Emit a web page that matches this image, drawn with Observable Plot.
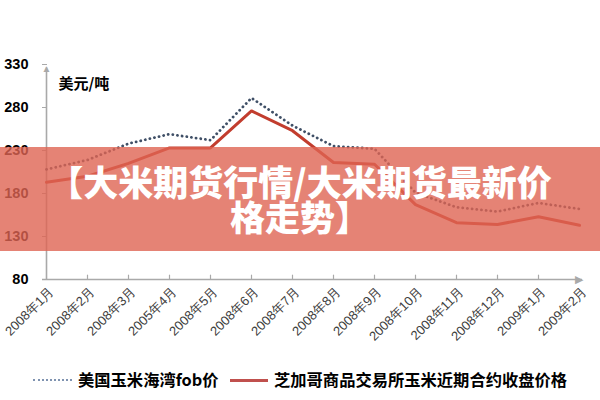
<!DOCTYPE html>
<html><head><meta charset="utf-8">
<script src="https://cdn.jsdelivr.net/npm/d3@7"></script>
<script src="https://cdn.jsdelivr.net/npm/@observablehq/plot@0.6"></script>
<style>
body{margin:0;background:#fff;}
#wrap{position:relative;width:600px;height:400px;overflow:hidden;background:#fff;font-family:"Noto Sans CJK SC",sans-serif;}
#chart{position:absolute;left:0;top:0;}
#band{position:absolute;left:0;top:147px;width:600px;height:104px;background:rgba(222,100,82,0.8);color:#fff;text-align:center;font-weight:900;font-size:35px;line-height:35px;padding-top:16px;box-sizing:border-box;font-family:"Noto Sans CJK SC",sans-serif;}
#band div{height:35px;}
#legend{position:absolute;left:0;top:355px;width:600px;height:45px;}
.sw{position:absolute;top:24px;height:0;}
.lt{position:absolute;top:12px;font-size:16.3px;line-height:24px;font-weight:bold;color:#000;white-space:nowrap;font-family:"Noto Sans CJK SC",sans-serif;}
</style>
</head><body>
<div id="wrap">
  <div id="chart"></div>
  <div id="band"></div>
  <div id="legend"></div>
</div>
<script>
const months = ["2008年1月","2008年2月","2008年3月","2005年4月","2008年5月","2008年6月","2008年7月","2008年8月","2008年9月","2008年10月","2008年11月","2008年12月","2009年1月","2009年2月"];
const fobPrice = [208, 219, 238, 249, 242, 291, 259, 235, 232, 181, 164, 159, 169, 162];
const cbotPrice = [193, 200, 215, 233, 233, 276, 253, 216, 214, 167, 146, 144, 153, 143];
const yTicks = [80, 130, 180, 230, 280, 330];
const seriesNames = ["美国玉米海湾fob价", "芝加哥商品交易所玉米近期合约收盘价格"];
const yUnit = "美元/吨";
const titleLines = ["【大米期货行情/大米期货最新价", "格走势】"];

const fobRows = months.map((m, i) => ({month: m, value: fobPrice[i]}));
const cbotRows = months.map((m, i) => ({month: m, value: cbotPrice[i]}));

const axisGray = "#a9a9a9";
const fobColor = "#3f4f66";
const cbotColor = "#c23d2e";

const chart = Plot.plot({
  width: 600,
  height: 355,
  marginLeft: 42,
  marginRight: 18,
  marginTop: 64,
  marginBottom: 76,
  style: {background: "transparent", overflow: "visible"},
  x: {type: "point", domain: months, padding: 0, axis: null},
  y: {domain: [80, 330], axis: null},
  marks: [
    Plot.ruleY([80], {stroke: axisGray, strokeWidth: 1.6}),
    Plot.ruleX([months[0]], {y1: 80, y2: 326, stroke: axisGray, strokeWidth: 1.6}),
    Plot.ruleX(months.slice(1, -1), {x: d => d, y1: 80, y2: 85, stroke: axisGray, strokeWidth: 1.2}),
    Plot.axisY(yTicks, {tickSize: 5, dx: 5, tickFormat: () => "", stroke: axisGray, label: null}),
    Plot.axisY(yTicks, {tickSize: 0, tickPadding: 14, label: null, fontSize: 14.5, fontWeight: "bold", fontFamily: "'Liberation Sans',sans-serif", fill: "#000"}),
    Plot.text([months[months.length - 1]], {x: d => d, y: 80, text: () => "▶", fontSize: 11, textAnchor: "end", dx: 3, fill: axisGray}),
    Plot.text([months[0]], {x: d => d, y: 330, text: () => "▲", fontSize: 10, dy: 4, fill: axisGray}),
    Plot.text(months, {x: d => d, y: 80, text: d => d, rotate: -45, textAnchor: "end", dx: 5, dy: 10, fontSize: 13, fill: "#404040", fontFamily: "'Liberation Sans',sans-serif"}),
    Plot.text([yUnit], {frameAnchor: "top-left", dx: 16, dy: 14, textAnchor: "start", fontSize: 15, fontWeight: "bold", fill: "#000", fontFamily: "'Noto Sans CJK SC',sans-serif"}),
    Plot.line(fobRows, {x: "month", y: "value", stroke: fobColor, strokeWidth: 2.8, strokeDasharray: "0.1 4.6", strokeLinecap: "round"}),
    Plot.line(cbotRows, {x: "month", y: "value", stroke: cbotColor, strokeWidth: 3})
  ]
});
document.getElementById("chart").appendChild(chart);

const band = document.getElementById("band");
titleLines.forEach(t => {
  const d = document.createElement("div");
  d.textContent = t;
  band.appendChild(d);
});

const legend = document.getElementById("legend");
const items = [
  {name: seriesNames[0], swLeft: 33, swWidth: 39, border: "2px dotted #7f93b0", textLeft: 78},
  {name: seriesNames[1], swLeft: 230, swWidth: 38, border: "3px solid #c0504d", textLeft: 274}
];
items.forEach(it => {
  const s = document.createElement("div");
  s.className = "sw";
  s.style.left = it.swLeft + "px";
  s.style.width = it.swWidth + "px";
  s.style.borderTop = it.border;
  legend.appendChild(s);
  const t = document.createElement("div");
  t.className = "lt";
  t.style.left = it.textLeft + "px";
  t.textContent = it.name;
  legend.appendChild(t);
});
</script>
</body></html>
